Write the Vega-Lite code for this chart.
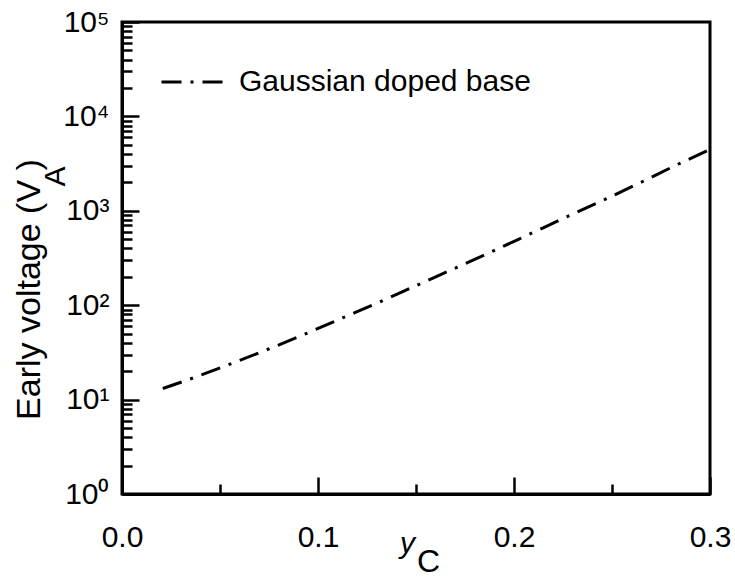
{
  "$schema": "https://vega.github.io/schema/vega-lite/v6.json",
  "width": 588,
  "height": 472,
  "autosize": {"type": "none"},
  "padding": {"left": 122, "top": 22, "right": 25, "bottom": 83},
  "background": "white",
  "data": {
    "values": [
      {"yC": 0.0208, "VA": 13.1, "series": "Gaussian doped base"},
      {"yC": 0.0347, "VA": 16.5, "series": "Gaussian doped base"},
      {"yC": 0.054, "VA": 23.3, "series": "Gaussian doped base"},
      {"yC": 0.0922, "VA": 48.3, "series": "Gaussian doped base"},
      {"yC": 0.1112, "VA": 71.4, "series": "Gaussian doped base"},
      {"yC": 0.1305, "VA": 106, "series": "Gaussian doped base"},
      {"yC": 0.1497, "VA": 160, "series": "Gaussian doped base"},
      {"yC": 0.1687, "VA": 240, "series": "Gaussian doped base"},
      {"yC": 0.1879, "VA": 363, "series": "Gaussian doped base"},
      {"yC": 0.207, "VA": 554, "series": "Gaussian doped base"},
      {"yC": 0.2264, "VA": 853, "series": "Gaussian doped base"},
      {"yC": 0.2457, "VA": 1301, "series": "Gaussian doped base"},
      {"yC": 0.2648, "VA": 2004, "series": "Gaussian doped base"},
      {"yC": 0.284, "VA": 3133, "series": "Gaussian doped base"},
      {"yC": 0.3, "VA": 4460, "series": "Gaussian doped base"}
    ]
  },
  "layer": [
    {
      "mark": {"type": "line", "color": "black", "strokeWidth": 3, "strokeCap": "butt", "interpolate": "monotone"},
      "encoding": {
        "x": {
          "field": "yC", "type": "quantitative",
          "scale": {"domain": [0, 0.3], "nice": false, "zero": false},
          "axis": {
            "orient": "bottom",
            "values": [0, 0.1, 0.2, 0.3],
            "format": ".1f",
            "grid": false,
            "tickSize": -17, "tickWidth": 2.5, "tickColor": "black",
            "domainWidth": 3, "domainColor": "black",
            "labelPadding": 45, "labelFontSize": 30, "labelColor": "black", "labelFlush": false,
            "labelFont": "Liberation Sans",
            "title": "y", "titleFont": "Liberation Sans", "titleFontSize": 30, "titleFontStyle": "italic",
            "titleFontWeight": "normal", "titleColor": "black",
            "titleX": 285, "titleY": 58, "titleBaseline": "alphabetic", "titleAlign": "center"
          }
        },
        "y": {
          "field": "VA", "type": "quantitative",
          "scale": {"type": "log", "domain": [1, 100000], "nice": false},
          "axis": {
            "orient": "left",
            "values": [1, 10, 100, 1000, 10000, 100000],
            "labelExpr": "'10' + ['⁰','¹','²','³','⁴','⁵'][round(log(datum.value)/LN10)]",
            "grid": false,
            "tickSize": -17, "tickWidth": 2.5, "tickColor": "black",
            "domainWidth": 3, "domainColor": "black",
            "labelPadding": 30, "labelFontSize": 30, "labelColor": "black",
            "labelFont": "Liberation Sans",
            "title": "Early voltage (V )", "titleFont": "Liberation Sans", "titleFontSize": 34,
            "titleFontWeight": "normal", "titleColor": "black", "titleAngle": 270,
            "titleX": -83, "titleY": 267, "titleBaseline": "alphabetic", "titleAlign": "center"
          }
        },
        "strokeDash": {
          "field": "series", "type": "nominal",
          "scale": {"domain": ["Gaussian doped base"], "range": [[20, 9, 3, 9]]},
          "legend": {
            "title": null, "orient": "none", "legendX": 38, "legendY": 25,
            "padding": 0, "symbolType": "stroke", "symbolSize": 4489,
            "symbolStrokeWidth": 3, "symbolStrokeColor": "black",
            "labelFontSize": 30, "labelFont": "Liberation Sans", "labelColor": "black",
            "labelOffset": 9, "labelLimit": 0
          }
        }
      }
    },
    {
      "mark": {"type": "line", "opacity": 0},
      "encoding": {
        "x": {
          "field": "yC", "type": "quantitative",
          "axis": {
            "orient": "bottom",
            "values": [0.05, 0.15, 0.25],
            "grid": false, "labels": false, "domain": false,
            "tickSize": -10, "tickWidth": 2.5, "tickColor": "black",
            "title": "C", "titleFont": "Liberation Sans", "titleFontSize": 32,
            "titleFontWeight": "normal", "titleColor": "black",
            "titleX": 306, "titleY": 77, "titleBaseline": "alphabetic", "titleAlign": "center"
          }
        },
        "y": {
          "field": "VA", "type": "quantitative",
          "axis": {
            "orient": "left",
            "values": [2, 3, 4, 5, 6, 7, 8, 9, 20, 30, 40, 50, 60, 70, 80, 90, 200, 300, 400, 500, 600, 700, 800, 900, 2000, 3000, 4000, 5000, 6000, 7000, 8000, 9000, 20000, 30000, 40000, 50000, 60000, 70000, 80000, 90000],
            "grid": false, "labels": false, "domain": false,
            "tickSize": -10, "tickWidth": 2.5, "tickColor": "black",
            "title": "A", "titleFont": "Liberation Sans", "titleFontSize": 30,
            "titleFontWeight": "normal", "titleColor": "black", "titleAngle": 270,
            "titleX": -58, "titleY": 154, "titleBaseline": "alphabetic", "titleAlign": "center"
          }
        }
      }
    }
  ],
  "resolve": {"axis": {"x": "independent", "y": "independent"}},
  "config": {
    "font": "Liberation Sans",
    "view": {"stroke": "black", "strokeWidth": 3}
  }
}
